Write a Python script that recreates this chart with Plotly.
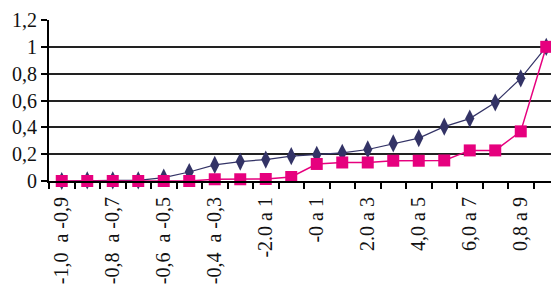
import plotly.graph_objects as go

# category index positions (20 classes), labels shown on every other class
n_classes = 20
tick_positions = [0, 2, 4, 6, 8, 10, 12, 14, 16, 18]
tick_labels = ["-1,0\u00a0 a -0,9", "-0,8\u00a0 a -0,7", "-0,6\u00a0 a -0,5",
               "-0,4\u00a0 a -0,3", "-2.0 a 1", "-0 a 1", "2.0 a 3",
               "4,0 a 5", "6,0 a 7", "0,8 a 9"]

series_navy = [0, 0.005, 0.005, 0.005, 0.025, 0.067, 0.12, 0.145, 0.16, 0.185,
               0.195, 0.21, 0.235, 0.28, 0.32, 0.405, 0.465, 0.585, 0.765, 1.0]
series_pink = [0, 0, 0, 0, 0, 0, 0.013, 0.013, 0.015, 0.03,
               0.127, 0.138, 0.138, 0.151, 0.151, 0.153, 0.228, 0.228, 0.37, 1.0]

x = list(range(n_classes))
navy = "#333366"
pink = "#e6007e"

fig = go.Figure()
fig.add_trace(go.Scatter(x=x, y=series_navy, mode="lines+markers",
                         line=dict(color=navy, width=1.2),
                         marker=dict(symbol="diamond-tall", size=13, color=navy),
                         showlegend=False, cliponaxis=False))
fig.add_trace(go.Scatter(x=x, y=series_pink, mode="lines+markers",
                         line=dict(color=pink, width=1.5),
                         marker=dict(symbol="square", size=12, color=pink),
                         showlegend=False, cliponaxis=False))

font = dict(family="Liberation Serif, Times New Roman, serif", size=20, color="#111111")

# the page body adds an 8px margin, so the figure is 8px smaller and offset
fig.update_layout(
    width=551, height=281,
    margin=dict(l=41, r=0, t=12, b=108, autoexpand=False),
    paper_bgcolor="white", plot_bgcolor="white",
    separators=", ",
    font=font,
)
fig.update_xaxes(range=[-0.5, n_classes - 0.5], tickmode="array",
                 tickvals=tick_positions, ticktext=tick_labels,
                 tickangle=-90, ticks="", ticklabelstandoff=6,
                 showgrid=False, zeroline=False, automargin=False,
                 showline=True, linecolor="black", linewidth=2,
                 minor=dict(ticks="outside", tick0=-0.5, dtick=1, ticklen=6,
                            tickcolor="black", tickwidth=1.5, showgrid=False),
                 tickfont=font)
fig.update_yaxes(range=[0, 1.2], dtick=0.2, tick0=0, automargin=False,
                 showgrid=True, gridcolor="#222222", gridwidth=1.5,
                 zeroline=False, showline=True, linecolor="black", linewidth=2,
                 ticks="outside", ticklen=6, tickcolor="black", tickwidth=1.5,
                 tickfont=font)

fig.write_html("out.html")
